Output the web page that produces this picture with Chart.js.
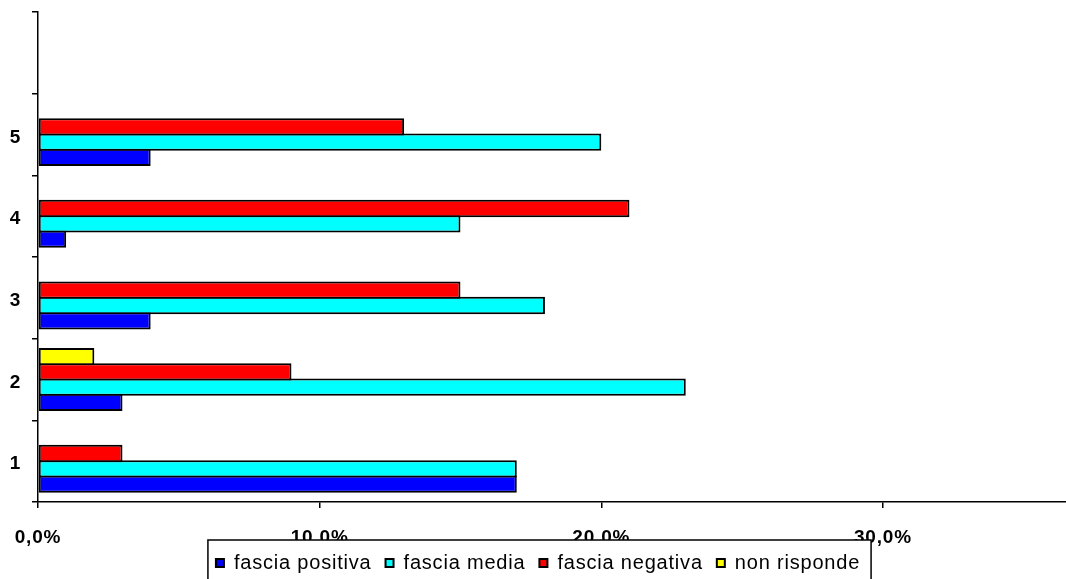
<!DOCTYPE html>
<html>
<head>
<meta charset="utf-8">
<script src="https://cdn.jsdelivr.net/npm/chart.js@4.4.0/dist/chart.umd.min.js"></script>
<style>
    html, body { margin: 0; padding: 0; background: #fff; overflow: hidden; }
    #wrap { width: 1066px; height: 583px; position: relative; }
</style>
</head>
<body>
<div id="wrap"><canvas id="chart"></canvas></div>
<script>
// categories (bottom to top), last one is the empty band at the top
const categories = ['1', '2', '3', '4', '5', ''];

// percent values per band
const fasciaPositiva = [17, 3, 4, 1, 4, null];
const fasciaMedia = [17, 23, 18, 15, 20, null];
const fasciaNegativa = [3, 9, 15, 21, 13, null];
const nonRisponde = [0, 2, 0, 0, 0, null];

const xTicks = [0, 10, 20, 30];
const xMax = 36.5;

const FONT = '"Liberation Sans", Arial, sans-serif';
const LETTER_SPACING = '0.8px';

// Excel draws its text a bit spread out
const spacing = {
    id: 'spacing',
    beforeLayout(chart) { chart.ctx.letterSpacing = LETTER_SPACING; },
    beforeDraw(chart) { chart.ctx.letterSpacing = LETTER_SPACING; },
    afterLayout(chart) {
        // let the x labels run under the legend frame instead of being clipped
        chart.scales.x.bottom = chart.height;
    }
};

// white framed box behind the legend, drawn over the tick labels
const legendFrame = {
    id: 'legendFrame',
    afterDraw(chart) {
        const legend = chart.legend;
        const boxes = legend.legendHitBoxes;
        if (!boxes || !boxes.length) return;
        const first = boxes[0];
        const last = boxes[boxes.length - 1];
        const left = Math.min(first.left, last.left) - 8;
        const right = Math.max(first.left + first.width, last.left + last.width) + 11;
        const top = legend.top + 1;
        const ctx = chart.ctx;
        ctx.save();
        ctx.fillStyle = '#fff';
        ctx.fillRect(left, top, right - left, chart.height - top + 5);
        ctx.strokeStyle = '#000';
        ctx.lineWidth = 1.5;
        ctx.strokeRect(left, top, right - left, chart.height - top + 5);
        ctx.restore();
        legend.draw();
    }
};

// bars overlap by one border width so neighbours share a single line
function makeSet(label, data, color) {
    return {
        label: label,
        data: data,
        backgroundColor: color,
        borderColor: '#000',
        borderWidth: 2,
        borderSkipped: false,
        categoryPercentage: 0.75,
        barPercentage: 1.13
    };
}

const ctx = document.getElementById('chart').getContext('2d');
new Chart(ctx, {
    type: 'bar',
    data: {
        labels: categories,
        // top of each group first, legend is reversed back
        datasets: [
            makeSet('non risponde', nonRisponde, '#ffff00'),
            makeSet('fascia negativa', fasciaNegativa, '#ff0000'),
            makeSet('fascia media', fasciaMedia, '#00ffff'),
            makeSet('fascia positiva', fasciaPositiva, '#0000ff')
        ]
    },
    options: {
        indexAxis: 'y',
        responsive: true,
        maintainAspectRatio: false,
        animation: false,
        layout: { padding: { top: 12, left: 10, right: 0, bottom: 0 } },
        plugins: {
            tooltip: { enabled: false },
            legend: {
                position: 'bottom',
                reverse: true,
                labels: {
                    boxWidth: 8,
                    boxHeight: 8,
                    padding: 14,
                    color: '#000',
                    font: { family: FONT, size: 20 }
                }
            }
        },
        scales: {
            x: {
                min: 0,
                max: xMax,
                afterFit(scale) {
                    scale.height = 37;
                    scale.paddingLeft = 0;
                    scale.paddingRight = 0;
                },
                afterBuildTicks(scale) {
                    scale.ticks = xTicks.map(v => ({ value: v }));
                },
                grid: {
                    drawOnChartArea: false,
                    tickLength: 6,
                    color: '#000',
                    lineWidth: 1.5
                },
                border: { color: '#000', width: 1.5 },
                ticks: {
                    padding: 18,
                    maxRotation: 0,
                    color: '#000',
                    font: { family: FONT, size: 19, weight: 'bold' },
                    callback: v => v.toFixed(1).replace('.', ',') + '%'
                }
            },
            y: {
                reverse: true,
                afterFit(scale) {
                    scale.width = 28;
                    scale.paddingTop = 0;
                    scale.paddingBottom = 0;
                },
                grid: {
                    drawOnChartArea: false,
                    offset: true,
                    tickLength: 6,
                    color: '#000',
                    lineWidth: 1.5
                },
                border: { color: '#000', width: 1.5 },
                ticks: {
                    padding: 11,
                    labelOffset: 3,
                    color: '#000',
                    font: { family: FONT, size: 19, weight: 'bold' }
                }
            }
        }
    },
    plugins: [spacing, legendFrame]
});
</script>
</body>
</html>
